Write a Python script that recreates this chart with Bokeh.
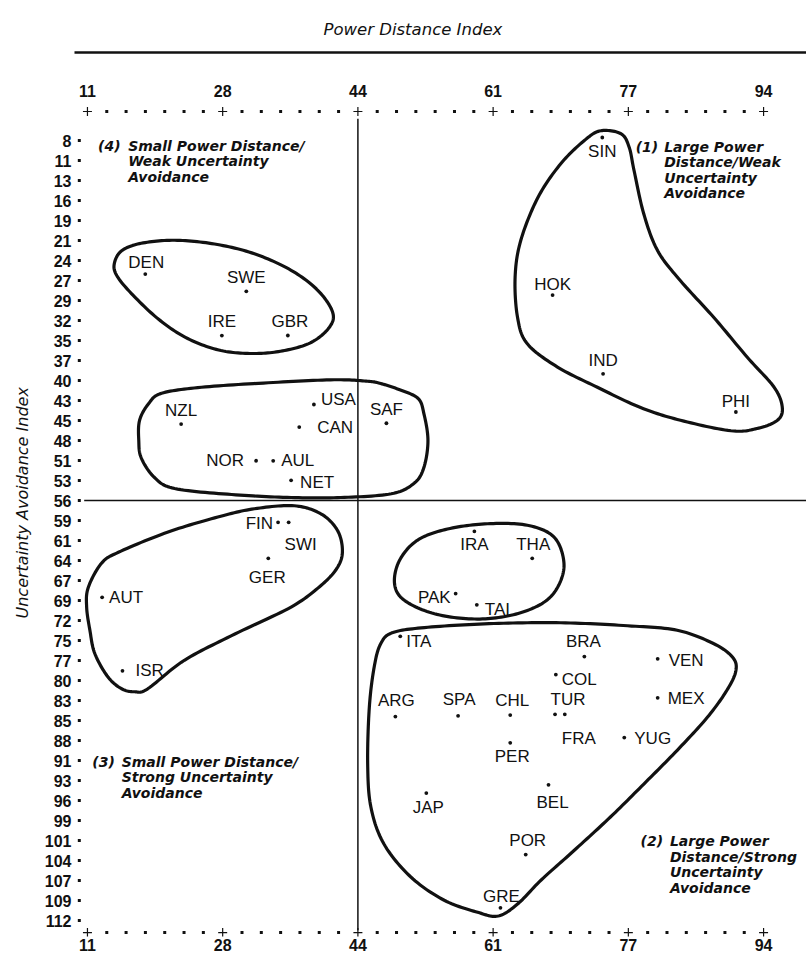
import numpy as np
from bokeh.plotting import figure
from bokeh.models import Range1d, FixedTicker, LinearAxis, ColumnDataSource, Title
from bokeh.core.properties import value, field
from bokeh.embed import file_html
from bokeh.resources import INLINE

# ---------------- data ----------------
x_tick_labels = ["11", "28", "44", "61", "77", "94"]
y_tick_labels = ["8", "11", "13", "16", "19", "21", "24", "27", "29", "32",
                 "35", "37", "40", "43", "45", "48", "51", "53", "56", "59",
                 "61", "64", "67", "69", "72", "75", "77", "80", "83", "85",
                 "88", "91", "93", "96", "99", "101", "104", "107", "109", "112"]

countries = ["DEN", "SWE", "IRE", "GBR", "NZL", "USA", "CAN", "NOR", "AUL", "NET",
             "SAF", "SIN", "HOK", "IND", "PHI", "FIN", "SWI", "GER", "AUT", "ISR",
             "IRA", "THA", "PAK", "TAI", "ITA", "BRA", "VEN", "COL", "MEX", "ARG",
             "SPA", "CHL", "TUR", "FRA", "YUG", "PER", "JAP", "BEL", "POR", "GRE"]
pdi = [18.1, 30.5, 27.5, 35.6, 22.5, 38.8, 37.0, 31.7, 33.8, 36.0,
       47.7, 74.2, 68.1, 74.3, 90.6, 34.4, 35.7, 33.2, 12.8, 15.3,
       58.5, 65.6, 56.2, 58.8, 49.4, 72.0, 81.0, 68.5, 81.0, 48.8,
       56.5, 62.9, 68.4, 69.6, 76.9, 62.9, 52.6, 67.6, 64.8, 61.7]
uai = [25.8, 28.1, 34.0, 34.0, 45.8, 43.2, 46.2, 50.7, 50.7, 53.3,
       45.7, 7.6, 28.6, 39.1, 44.2, 58.9, 58.9, 63.7, 68.9, 78.7,
       60.1, 63.7, 68.4, 69.9, 74.1, 76.8, 77.1, 79.2, 82.3, 84.8,
       84.7, 84.6, 84.5, 84.5, 87.6, 88.3, 95.0, 93.9, 103.2, 110.3]

# cluster outlines (PDI, UAI)
nordic_x = [14.3, 15.2, 17.6, 21.7, 26.6, 31.5, 36.0, 39.3, 41.1, 40.7, 38.5, 35.2, 31.5, 27.4, 23.3, 19.7, 16.4, 14.6]
nordic_y = [24.4, 22.7, 21.7, 21.3, 21.8, 23.1, 25.3, 28.0, 30.9, 32.9, 34.9, 36.0, 36.4, 36.0, 34.4, 31.8, 28.4, 26.0]
anglo_x = [20.1, 25.0, 33.2, 41.3, 45.4, 47.0, 49.5, 51.6, 52.3, 52.8, 52.3, 51.1, 48.3, 42.1, 36.0, 28.7, 21.7, 19.2, 17.6, 17.3, 17.4, 18.5]
anglo_y = [41.7, 40.9, 40.3, 39.9, 40.1, 40.4, 41.3, 42.4, 44.4, 48.0, 51.6, 53.7, 55.1, 55.6, 55.6, 55.2, 54.4, 52.9, 50.3, 48.0, 45.3, 43.1]
asia_x = [74.0, 76.5, 77.5, 78.1, 79.3, 81.0, 83.8, 87.9, 92.0, 95.3, 96.3, 95.7, 93.2, 90.0, 83.8, 78.9, 73.6, 68.7, 65.0, 63.8, 63.5, 64.2, 66.3, 69.1, 72.0]
asia_y = [6.7, 7.1, 8.9, 12.0, 17.8, 22.7, 26.7, 31.6, 36.9, 40.9, 43.6, 45.3, 46.4, 46.7, 45.3, 43.6, 40.9, 38.2, 35.1, 31.6, 26.2, 21.3, 15.6, 11.1, 8.0]
german_x = [11.1, 12.7, 14.8, 20.9, 27.0, 31.5, 36.4, 39.7, 41.7, 42.3, 41.7, 39.7, 36.0, 29.1, 22.9, 18.4, 16.8, 15.2, 13.5, 11.9, 11.3, 10.9]
german_y = [67.6, 64.4, 62.9, 60.2, 58.2, 57.1, 56.7, 57.8, 60.0, 62.7, 64.9, 67.3, 70.2, 73.8, 77.3, 81.1, 81.5, 81.1, 79.5, 76.4, 73.3, 70.2]
mideast_x = [48.7, 49.3, 51.5, 55.2, 60.1, 65.0, 68.3, 69.5, 68.7, 66.7, 63.0, 58.5, 53.6, 49.9]
mideast_y = [67.1, 64.0, 61.3, 59.8, 59.1, 59.3, 60.9, 64.4, 67.6, 69.8, 71.3, 71.8, 71.1, 69.3]
latin_x = [48.5, 52.8, 60.9, 69.1, 77.3, 83.4, 87.9, 90.2, 90.6, 89.5, 87.1, 83.4, 79.3, 75.2, 70.7, 66.7, 63.8, 61.4, 58.9, 54.8, 50.7, 47.4, 45.8, 45.4, 45.6, 46.2, 47.0]
latin_y = [73.6, 72.9, 72.4, 72.3, 72.7, 73.3, 75.1, 76.9, 78.7, 81.3, 84.9, 89.3, 93.8, 98.2, 102.7, 106.6, 109.8, 111.4, 110.9, 109.3, 106.2, 101.8, 96.9, 91.1, 83.6, 78.2, 75.1]

quadrant_tags = ["(4)", "(1)", "(3)", "(2)"]
quadrant_texts = [["Small Power Distance/", "Weak Uncertainty", "Avoidance"],
                  ["Large Power", "Distance/Weak", "Uncertainty", "Avoidance"],
                  ["Small Power Distance/", "Strong Uncertainty", "Avoidance"],
                  ["Large Power", "Distance/Strong", "Uncertainty", "Avoidance"]]

# ---------------- styling / placement ----------------
label_align = ["center", "center", "center", "center", "center", "left", "left", "right", "left", "left",
               "center", "center", "center", "center", "center", "right", "center", "center", "left", "left",
               "center", "center", "right", "left", "left", "center", "left", "left", "left", "center",
               "center", "center", "center", "center", "left", "center", "center", "center", "center", "center"]
label_dx = [1, 0, 0, 2, 0, 7, 18, -12, 8, 9,
            0, 0, 0, 0, 0, -5, 12, -1, 7, 13,
            0, 1, -5, 8, 6, -1, 11, 6, 10, 1,
            1, 2, 13, 14, 10, 2, 2, 4, 2, 1]
label_dy = [-12, -14, -14, -14, -14, -5, 0, 0, 0, 2,
            -14, 14, -11, -13, -11, 1, 22, 19, 0, 0,
            13, -14, 4, 5, 5, -15, 2, 5, 1, -16,
            -16, -15, -15, 24, 1, 14, 14, 18, -14, -11]
quad_tag_x = [12.3, 78.3, 11.6, 78.9]
quad_body_x = [16.0, 81.8, 15.2, 82.5]
quad_y = [8.7, 8.8, 90.8, 101.4]
LINE_STEP = 15.5

INK = "#111111"
TICK_FONT = "Liberation Sans"
LABEL_FONT = "Liberation Sans"
ITAL_FONT = "DejaVu Sans"

x_ticks = [float(v) for v in np.linspace(11, 94, len(x_tick_labels))]
y_ticks = [float(v) for v in np.linspace(8, 112, len(y_tick_labels))]
x_over = {t: s for t, s in zip(x_ticks, x_tick_labels)}
y_over = {t: s for t, s in zip(y_ticks, y_tick_labels)}

p = figure(width=806, height=956, output_backend="svg", toolbar_location=None,
           title=None, x_range=Range1d(9.41, 99.27), y_range=Range1d(114.13, 2.93),
           min_border_left=73, min_border_right=0, min_border_top=102, min_border_bottom=20)
p.grid.visible = False
p.outline_line_color = None
p.background_fill_color = "white"
p.border_fill_color = "white"

def style_tick_axis(ax, ticks, overrides, standoff):
    ax.ticker = FixedTicker(ticks=ticks)
    ax.major_label_overrides = overrides
    ax.axis_line_color = None
    ax.major_tick_line_color = None
    ax.minor_tick_line_color = None
    ax.major_tick_out = 0
    ax.major_tick_in = 0
    ax.minor_tick_out = 0
    ax.minor_tick_in = 0
    ax.major_label_standoff = standoff
    ax.major_label_text_font = TICK_FONT
    ax.major_label_text_font_style = "bold"
    ax.major_label_text_font_size = "16px"
    ax.major_label_text_color = INK

xb = p.xaxis[0]
style_tick_axis(xb, x_ticks, x_over, 2)

yl = p.yaxis[0]
style_tick_axis(yl, y_ticks, y_over, 3)

# top: tick labels, a rule above them, and the title
xt = LinearAxis()
style_tick_axis(xt, x_ticks, x_over, 6)
xt.axis_label = " "
xt.axis_label_text_font_size = "14px"
xt.axis_label_standoff = 10
p.add_layout(xt, "above")

xr = LinearAxis(ticker=FixedTicker(ticks=[]))
xr.axis_line_width = 2.5
xr.axis_line_color = INK
xr.major_tick_out = 0
xr.major_tick_in = 0
xr.minor_tick_out = 0
xr.minor_tick_in = 0
xr.major_label_standoff = 0
p.add_layout(xr, "above")

p.title = Title(text="Power Distance Index", align="left", offset=249, vertical_align="top",
                text_font=ITAL_FONT, text_font_style="italic", text_font_size="16.5px",
                text_color=INK, standoff=24)

p.add_layout(Title(text="Uncertainty Avoidance Index", align="left", offset=318,
                   text_font=ITAL_FONT, text_font_style="italic", text_font_size="16px",
                   text_color=INK, standoff=20), "left")

# axis dot rows
row_x = np.linspace(11, 94, 7 * (len(x_tick_labels) - 1) + 1)
is_plus = (np.arange(len(row_x)) % 7) == 0
for yrow in (4.13, 113.6):
    p.scatter(row_x[is_plus], [yrow] * int(is_plus.sum()), marker="cross", size=9,
              line_color=INK, line_width=1.2)
    p.scatter(row_x[~is_plus], [yrow] * int((~is_plus).sum()), marker="square", size=3,
              fill_color=INK, line_color=None)
p.scatter([10.0] * len(y_ticks), y_ticks, marker="square", size=3,
          fill_color=INK, line_color=None)

# quadrant dividers
p.line([x_ticks[2], x_ticks[2]], [5.1, 113.3], line_color=INK, line_width=1.5)
p.line([10.6, 99.27], [y_ticks[18], y_ticks[18]], line_color=INK, line_width=1.5)

# cluster outlines (closed smooth curves through the read points)
def smooth_closed(xs, ys, n=14):
    P = np.column_stack([xs, ys]).astype(float)
    m = len(P)
    pts = []
    for i in range(m):
        p0, p1, p2, p3 = P[(i - 1) % m], P[i], P[(i + 1) % m], P[(i + 2) % m]
        for t in np.linspace(0, 1, n, endpoint=False):
            t2, t3 = t * t, t * t * t
            pts.append(0.5 * (2 * p1 + (-p0 + p2) * t + (2 * p0 - 5 * p1 + 4 * p2 - p3) * t2
                              + (-p0 + 3 * p1 - 3 * p2 + p3) * t3))
    pts.append(pts[0])
    a = np.array(pts)
    return a[:, 0], a[:, 1]

for ox, oy in [(nordic_x, nordic_y), (anglo_x, anglo_y), (asia_x, asia_y),
               (german_x, german_y), (mideast_x, mideast_y), (latin_x, latin_y)]:
    sx, sy = smooth_closed(ox, oy)
    p.line(sx, sy, line_color=INK, line_width=3.2, line_join="round")

# country points and labels
src = ColumnDataSource(dict(x=pdi, y=uai, name=countries, align=label_align,
                            dx=label_dx, dy=label_dy))
p.scatter("x", "y", source=src, marker="circle", size=3.8, fill_color=INK, line_color=None)
p.text("x", "y", text="name", source=src, x_offset=field("dx"), y_offset=field("dy"),
       text_align=field("align"), text_baseline="middle", text_font=value(LABEL_FONT),
       text_font_size="17px", text_color=INK)

# quadrant captions
qx, qy, qt, qo = [], [], [], []
for i in range(len(quadrant_tags)):
    qx.append(quad_tag_x[i]); qy.append(quad_y[i]); qt.append(quadrant_tags[i]); qo.append(0.0)
    for j, line in enumerate(quadrant_texts[i]):
        qx.append(quad_body_x[i]); qy.append(quad_y[i]); qt.append(line); qo.append(j * LINE_STEP)
qsrc = ColumnDataSource(dict(x=qx, y=qy, t=qt, o=qo))
p.text("x", "y", text="t", source=qsrc, y_offset=field("o"), text_align="left",
       text_baseline="middle", text_font=value(ITAL_FONT), text_font_style="bold italic",
       text_font_size="14px", text_color=INK)

open("out.html", "w").write(file_html(p, INLINE))
